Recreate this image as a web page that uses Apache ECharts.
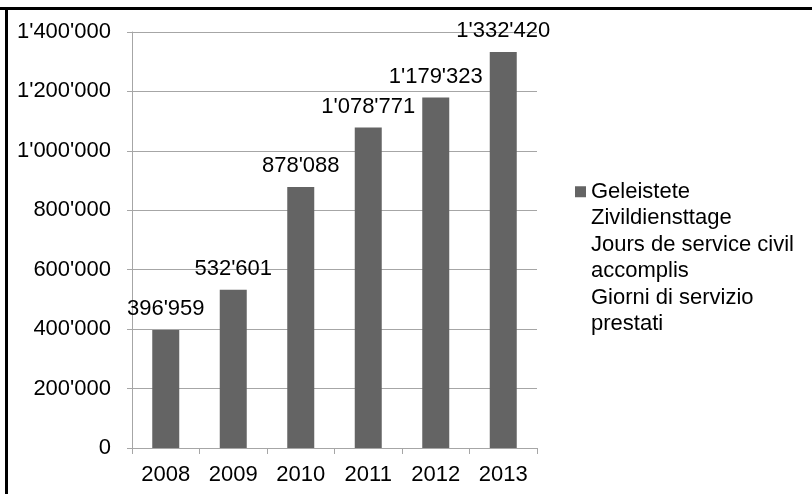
<!DOCTYPE html>
<html>
<head>
<meta charset="utf-8">
<script src="https://cdn.jsdelivr.net/npm/echarts@6/dist/echarts.min.js"></script>
<style>
  html, body { margin: 0; padding: 0; background: #fff; }
  #chart { width: 812px; height: 494px; }
</style>
</head>
<body>
<div id="chart"></div>
<script>
const years = ['2008', '2009', '2010', '2011', '2012', '2013'];
const serviceDays = [396959, 532601, 878088, 1078771, 1179323, 1332420];
const seriesName = 'Geleistete\nZivildiensttage\nJours de service civil\naccomplis\nGiorni di servizio\nprestati';

const FONT = '"Liberation Sans", Arial, sans-serif';

function swissFormat(v) {
    return String(v).replace(/\B(?=(\d{3})+(?!\d))/g, "'");
}

const chart = echarts.init(document.getElementById('chart'));

const option = {
    backgroundColor: '#fff',
    animation: false,
    textStyle: { fontFamily: FONT },
    grid: { left: 132, right: 275, top: 32, bottom: 46 },
    legend: {
        left: 575,
        top: 46,
        padding: 0,
        orient: 'vertical',
        icon: 'rect',
        itemWidth: 11,
        itemHeight: 11,
        itemGap: 0,
        // empty lines on top so the marker sits next to the first line
        formatter: name => '\n\n\n\n\n' + name,
        textStyle: {
            fontFamily: FONT,
            fontSize: 22,
            color: '#000',
            lineHeight: 26.5
        },
        data: [seriesName]
    },
    graphic: [
        { type: 'rect', shape: { x: 0, y: 7, width: 812, height: 3 }, style: { fill: '#000' } },
        { type: 'rect', shape: { x: 5, y: 7, width: 3, height: 487 }, style: { fill: '#000' } }
    ],
    xAxis: {
        type: 'category',
        data: years,
        axisLine: { lineStyle: { color: '#a6a6a6', width: 1 } },
        axisTick: { show: true, length: 6, lineStyle: { color: '#a6a6a6' } },
        axisLabel: { fontFamily: FONT, fontSize: 22, color: '#000', margin: 16 }
    },
    yAxis: {
        type: 'value',
        min: 0,
        max: 1400000,
        interval: 200000,
        axisLine: { show: true, lineStyle: { color: '#a6a6a6', width: 1 } },
        axisTick: { show: true, length: 5, lineStyle: { color: '#a6a6a6' } },
        splitLine: { lineStyle: { color: '#a6a6a6', width: 1 } },
        axisLabel: {
            fontFamily: FONT,
            fontSize: 22,
            color: '#000',
            margin: 21,
            formatter: swissFormat
        }
    },
    series: [{
        name: seriesName,
        type: 'bar',
        data: serviceDays,
        barWidth: 27,
        itemStyle: { color: '#646464' },
        label: {
            show: true,
            position: 'top',
            distance: 10,
            fontFamily: FONT,
            fontSize: 22,
            color: '#000',
            formatter: p => swissFormat(p.value)
        }
    }]
};

chart.setOption(option);
</script>
</body>
</html>
